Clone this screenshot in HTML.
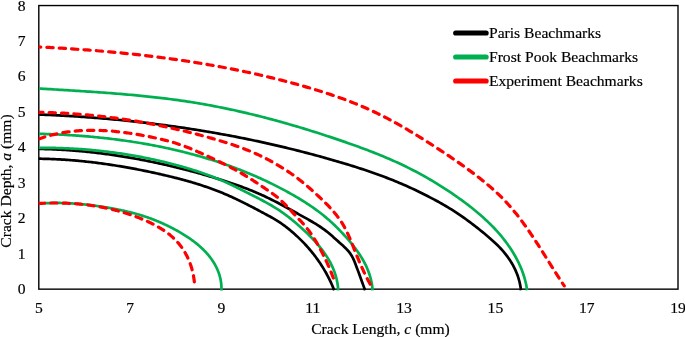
<!DOCTYPE html>
<html><head><meta charset="utf-8"><title>Crack beachmarks</title>
<style>
html,body{margin:0;padding:0;background:#fff;}
svg{display:block;}
text{font-family:"Liberation Serif","Times New Roman",serif;font-size:15.6px;fill:#000;stroke:#000;stroke-width:0.18px;}
</style></head>
<body>
<svg width="685" height="337" viewBox="0 0 685 337">
<rect x="0" y="0" width="685" height="337" fill="#ffffff"/>
<defs><clipPath id="pc"><rect x="38.60" y="5.55" width="639.10" height="283.60"/></clipPath></defs>
<rect x="38.80" y="5.55" width="639.20" height="283.60" fill="none" stroke="#000" stroke-width="1.4"/>
<g>
<path d="M38.87,158.70 L40.30,158.72 L41.73,158.75 L43.16,158.78 L44.59,158.81 L46.02,158.85 L47.45,158.89 L48.88,158.94 L50.30,158.99 L51.73,159.04 L53.16,159.10 L54.58,159.16 L56.01,159.23 L57.43,159.30 L58.85,159.38 L60.28,159.46 L61.70,159.54 L63.12,159.63 L64.55,159.72 L65.97,159.82 L67.39,159.92 L68.81,160.02 L70.23,160.13 L71.65,160.24 L73.07,160.35 L74.49,160.47 L75.91,160.60 L77.32,160.72 L78.74,160.85 L80.16,160.99 L81.57,161.13 L82.99,161.27 L84.40,161.41 L85.82,161.56 L87.23,161.72 L88.65,161.87 L90.06,162.03 L91.47,162.20 L92.89,162.36 L94.30,162.53 L95.71,162.71 L97.12,162.89 L98.53,163.07 L99.94,163.25 L101.35,163.44 L102.76,163.63 L104.17,163.83 L105.58,164.03 L106.99,164.23 L108.39,164.43 L109.80,164.64 L111.21,164.85 L112.61,165.07 L114.02,165.29 L115.42,165.51 L116.83,165.73 L118.23,165.96 L119.64,166.19 L121.04,166.43 L122.44,166.66 L123.85,166.91 L125.25,167.15 L126.65,167.40 L128.05,167.64 L129.45,167.90 L130.85,168.15 L132.25,168.41 L133.65,168.67 L135.05,168.94 L136.45,169.20 L137.85,169.47 L139.25,169.75 L140.64,170.02 L142.04,170.30 L143.44,170.58 L144.83,170.87 L146.23,171.15 L147.62,171.44 L149.02,171.74 L150.41,172.03 L151.81,172.33 L153.20,172.63 L154.59,172.93 L155.99,173.24 L157.38,173.55 L158.77,173.86 L160.16,174.17 L161.55,174.49 L162.94,174.81 L164.33,175.13 L165.72,175.45 L167.11,175.78 L168.50,176.11 L169.89,176.45 L171.27,176.78 L172.66,177.12 L174.04,177.47 L175.42,177.82 L176.81,178.17 L178.19,178.53 L179.57,178.89 L180.95,179.25 L182.32,179.62 L183.70,179.99 L185.07,180.37 L186.45,180.75 L187.82,181.14 L189.19,181.53 L190.56,181.92 L191.92,182.32 L193.29,182.73 L194.65,183.14 L196.01,183.55 L197.37,183.98 L198.73,184.40 L200.09,184.83 L201.44,185.27 L202.79,185.71 L204.14,186.16 L205.49,186.62 L206.83,187.08 L208.18,187.54 L209.52,188.02 L210.86,188.49 L212.19,188.98 L213.52,189.47 L214.85,189.97 L216.18,190.47 L217.51,190.99 L218.83,191.50 L220.15,192.03 L221.47,192.56 L222.78,193.10 L224.09,193.65 L225.40,194.20 L226.71,194.76 L228.01,195.33 L229.31,195.90 L230.61,196.49 L231.90,197.07 L233.20,197.67 L234.49,198.27 L235.77,198.87 L237.06,199.48 L238.34,200.10 L239.62,200.72 L240.90,201.35 L242.18,201.98 L243.45,202.61 L244.73,203.25 L246.00,203.89 L247.27,204.54 L248.54,205.19 L249.81,205.84 L251.08,206.50 L252.34,207.16 L253.61,207.82 L254.87,208.48 L256.13,209.15 L257.39,209.81 L258.66,210.48 L259.92,211.15 L261.18,211.82 L262.44,212.50 L263.70,213.17 L264.96,213.84 L266.22,214.51 L267.47,215.19 L268.73,215.87 L269.98,216.55 L271.23,217.24 L272.47,217.94 L273.70,218.65 L274.93,219.37 L276.15,220.10 L277.35,220.85 L278.55,221.61 L279.73,222.39 L280.91,223.19 L282.07,224.00 L283.22,224.83 L284.36,225.67 L285.50,226.52 L286.62,227.38 L287.74,228.26 L288.84,229.15 L289.94,230.05 L291.04,230.96 L292.12,231.88 L293.20,232.81 L294.27,233.75 L295.33,234.70 L296.38,235.66 L297.43,236.63 L298.47,237.61 L299.49,238.60 L300.51,239.60 L301.53,240.61 L302.53,241.62 L303.52,242.65 L304.51,243.68 L305.48,244.73 L306.45,245.78 L307.40,246.85 L308.35,247.92 L309.28,249.00 L310.21,250.09 L311.12,251.18 L312.03,252.29 L312.92,253.40 L313.81,254.53 L314.68,255.66 L315.54,256.80 L316.40,257.94 L317.24,259.10 L318.06,260.26 L318.88,261.43 L319.69,262.61 L320.48,263.79 L321.26,264.98 L322.03,266.18 L322.79,267.39 L323.54,268.61 L324.27,269.83 L324.99,271.06 L325.70,272.29 L326.39,273.53 L327.07,274.78 L327.74,276.04 L328.39,277.30 L329.04,278.57 L329.66,279.84 L330.28,281.12 L330.88,282.41 L331.46,283.71 L332.03,285.01 L332.59,286.31 L333.13,287.62 L333.66,288.94 L334.17,290.26" fill="none" stroke="#000000" stroke-width="2.7" stroke-linecap="butt" stroke-linejoin="round" />
<path d="M38.90,148.94 L40.47,148.96 L42.04,148.99 L43.61,149.02 L45.19,149.06 L46.76,149.10 L48.33,149.15 L49.90,149.21 L51.47,149.26 L53.04,149.33 L54.61,149.39 L56.18,149.46 L57.75,149.54 L59.32,149.62 L60.89,149.71 L62.46,149.80 L64.03,149.89 L65.60,149.99 L67.16,150.09 L68.73,150.20 L70.30,150.31 L71.86,150.43 L73.43,150.55 L75.00,150.68 L76.56,150.80 L78.13,150.94 L79.69,151.08 L81.26,151.22 L82.82,151.37 L84.38,151.52 L85.95,151.67 L87.51,151.83 L89.07,151.99 L90.63,152.16 L92.19,152.33 L93.75,152.51 L95.31,152.69 L96.87,152.87 L98.43,153.06 L99.99,153.25 L101.55,153.45 L103.11,153.65 L104.67,153.85 L106.22,154.06 L107.78,154.27 L109.33,154.49 L110.89,154.71 L112.44,154.93 L114.00,155.15 L115.55,155.39 L117.11,155.62 L118.66,155.86 L120.21,156.10 L121.76,156.34 L123.31,156.59 L124.86,156.85 L126.41,157.10 L127.96,157.36 L129.51,157.63 L131.06,157.90 L132.61,158.17 L134.15,158.44 L135.70,158.72 L137.25,159.00 L138.79,159.29 L140.33,159.58 L141.88,159.87 L143.42,160.17 L144.96,160.47 L146.50,160.77 L148.04,161.08 L149.58,161.39 L151.12,161.70 L152.66,162.02 L154.20,162.34 L155.74,162.67 L157.27,163.00 L158.81,163.33 L160.34,163.66 L161.88,164.00 L163.41,164.34 L164.94,164.69 L166.47,165.04 L168.00,165.39 L169.53,165.75 L171.06,166.11 L172.59,166.47 L174.12,166.84 L175.65,167.21 L177.17,167.58 L178.70,167.95 L180.22,168.33 L181.74,168.72 L183.27,169.10 L184.79,169.49 L186.31,169.89 L187.83,170.28 L189.35,170.68 L190.87,171.09 L192.39,171.49 L193.90,171.90 L195.42,172.31 L196.94,172.73 L198.45,173.15 L199.97,173.57 L201.48,174.00 L202.99,174.43 L204.50,174.86 L206.01,175.29 L207.52,175.73 L209.03,176.17 L210.54,176.62 L212.05,177.07 L213.55,177.52 L215.06,177.97 L216.56,178.43 L218.07,178.89 L219.57,179.35 L221.07,179.82 L222.57,180.30 L224.07,180.77 L225.57,181.26 L227.06,181.74 L228.56,182.23 L230.05,182.73 L231.54,183.23 L233.03,183.73 L234.51,184.24 L236.00,184.76 L237.48,185.28 L238.96,185.81 L240.44,186.35 L241.91,186.89 L243.38,187.43 L244.85,187.99 L246.32,188.55 L247.78,189.11 L249.24,189.69 L250.70,190.27 L252.15,190.85 L253.60,191.45 L255.05,192.05 L256.50,192.67 L257.94,193.28 L259.37,193.91 L260.81,194.55 L262.24,195.19 L263.66,195.84 L265.08,196.50 L266.50,197.17 L267.92,197.85 L269.33,198.54 L270.74,199.23 L272.14,199.92 L273.54,200.63 L274.94,201.34 L276.34,202.06 L277.73,202.78 L279.13,203.51 L280.52,204.24 L281.91,204.98 L283.29,205.72 L284.68,206.46 L286.06,207.21 L287.44,207.96 L288.82,208.72 L290.20,209.48 L291.58,210.24 L292.96,211.00 L294.33,211.76 L295.71,212.53 L297.09,213.29 L298.46,214.06 L299.84,214.83 L301.21,215.59 L302.59,216.36 L303.97,217.13 L305.34,217.89 L306.71,218.66 L308.09,219.44 L309.45,220.21 L310.82,221.00 L312.18,221.79 L313.53,222.59 L314.87,223.40 L316.21,224.22 L317.54,225.05 L318.86,225.89 L320.17,226.75 L321.46,227.63 L322.75,228.52 L324.02,229.43 L325.27,230.36 L326.52,231.31 L327.74,232.29 L328.95,233.28 L330.15,234.30 L331.33,235.32 L332.51,236.36 L333.69,237.41 L334.86,238.47 L336.04,239.52 L337.21,240.57 L338.40,241.62 L339.59,242.67 L340.78,243.71 L341.96,244.76 L343.14,245.82 L344.29,246.90 L345.42,247.99 L346.52,249.11 L347.59,250.25 L348.61,251.43 L349.59,252.65 L350.50,253.90 L351.35,255.20 L352.13,256.55 L352.86,257.93 L353.53,259.34 L354.16,260.79 L354.76,262.25 L355.34,263.72 L355.90,265.20 L356.46,266.68 L357.01,268.16 L357.56,269.64 L358.11,271.11 L358.66,272.59 L359.20,274.06 L359.74,275.54 L360.28,277.01 L360.82,278.49 L361.36,279.96 L361.89,281.44 L362.43,282.91 L362.96,284.39 L363.50,285.87 L364.03,287.34 L364.57,288.82 L365.10,290.30" fill="none" stroke="#000000" stroke-width="2.7" stroke-linecap="butt" stroke-linejoin="round" />
<path d="M38.90,114.50 L41.15,114.59 L43.39,114.68 L45.63,114.78 L47.88,114.88 L50.12,114.98 L52.37,115.09 L54.61,115.20 L56.86,115.31 L59.10,115.43 L61.34,115.55 L63.59,115.68 L65.83,115.80 L68.07,115.94 L70.32,116.07 L72.56,116.21 L74.80,116.35 L77.05,116.50 L79.29,116.65 L81.53,116.80 L83.77,116.96 L86.02,117.12 L88.26,117.29 L90.50,117.45 L92.74,117.63 L94.98,117.80 L97.22,117.98 L99.46,118.16 L101.70,118.35 L103.94,118.54 L106.18,118.74 L108.42,118.93 L110.66,119.14 L112.90,119.34 L115.14,119.55 L117.38,119.77 L119.62,119.98 L121.85,120.20 L124.09,120.43 L126.33,120.66 L128.57,120.89 L130.80,121.12 L133.04,121.36 L135.27,121.61 L137.51,121.86 L139.74,122.11 L141.97,122.36 L144.21,122.62 L146.44,122.89 L148.67,123.15 L150.91,123.42 L153.14,123.70 L155.37,123.98 L157.60,124.26 L159.83,124.55 L162.06,124.84 L164.29,125.13 L166.52,125.43 L168.74,125.73 L170.97,126.04 L173.20,126.35 L175.42,126.66 L177.65,126.98 L179.88,127.31 L182.10,127.63 L184.32,127.96 L186.55,128.30 L188.77,128.64 L190.99,128.98 L193.21,129.33 L195.43,129.68 L197.65,130.03 L199.87,130.39 L202.09,130.75 L204.31,131.12 L206.53,131.49 L208.74,131.87 L210.96,132.25 L213.17,132.63 L215.39,133.02 L217.60,133.41 L219.81,133.81 L222.02,134.21 L224.24,134.61 L226.45,135.02 L228.66,135.43 L230.86,135.85 L233.07,136.27 L235.28,136.70 L237.49,137.13 L239.69,137.56 L241.90,138.00 L244.10,138.44 L246.30,138.89 L248.50,139.34 L250.70,139.79 L252.90,140.25 L255.10,140.71 L257.30,141.18 L259.50,141.65 L261.70,142.13 L263.89,142.61 L266.08,143.10 L268.28,143.59 L270.47,144.08 L272.66,144.58 L274.85,145.08 L277.04,145.59 L279.23,146.10 L281.42,146.62 L283.60,147.14 L285.79,147.66 L287.97,148.19 L290.16,148.72 L292.34,149.26 L294.52,149.80 L296.70,150.35 L298.88,150.90 L301.06,151.45 L303.23,152.01 L305.41,152.58 L307.58,153.15 L309.76,153.72 L311.93,154.30 L314.10,154.88 L316.27,155.47 L318.44,156.06 L320.60,156.66 L322.77,157.26 L324.94,157.86 L327.10,158.47 L329.26,159.08 L331.42,159.70 L333.58,160.33 L335.74,160.95 L337.90,161.59 L340.05,162.22 L342.21,162.86 L344.36,163.51 L346.51,164.16 L348.66,164.82 L350.81,165.48 L352.96,166.15 L355.10,166.83 L357.25,167.51 L359.39,168.19 L361.52,168.89 L363.66,169.59 L365.79,170.30 L367.92,171.02 L370.05,171.75 L372.17,172.48 L374.29,173.22 L376.41,173.97 L378.52,174.73 L380.63,175.50 L382.74,176.28 L384.84,177.07 L386.94,177.87 L389.03,178.69 L391.13,179.51 L393.21,180.34 L395.29,181.18 L397.37,182.04 L399.44,182.91 L401.51,183.79 L403.57,184.68 L405.63,185.58 L407.68,186.50 L409.73,187.43 L411.77,188.37 L413.81,189.33 L415.84,190.30 L417.87,191.28 L419.89,192.27 L421.91,193.27 L423.92,194.28 L425.93,195.29 L427.94,196.31 L429.94,197.34 L431.93,198.38 L433.92,199.43 L435.91,200.49 L437.88,201.56 L439.85,202.64 L441.81,203.73 L443.76,204.85 L445.70,205.97 L447.63,207.12 L449.54,208.28 L451.45,209.46 L453.34,210.66 L455.22,211.87 L457.09,213.10 L458.95,214.35 L460.79,215.62 L462.63,216.90 L464.46,218.20 L466.28,219.51 L468.09,220.84 L469.90,222.18 L471.69,223.53 L473.48,224.89 L475.26,226.27 L477.04,227.66 L478.80,229.06 L480.57,230.47 L482.33,231.89 L484.08,233.32 L485.83,234.76 L487.56,236.21 L489.28,237.68 L490.98,239.17 L492.67,240.67 L494.33,242.20 L495.97,243.75 L497.58,245.32 L499.16,246.92 L500.70,248.55 L502.21,250.20 L503.68,251.89 L505.10,253.61 L506.48,255.37 L507.82,257.16 L509.10,258.99 L510.34,260.85 L511.52,262.74 L512.64,264.67 L513.70,266.63 L514.71,268.62 L515.65,270.65 L516.53,272.71 L517.34,274.80 L518.08,276.92 L518.75,279.08 L519.35,281.26 L519.87,283.47 L520.32,285.71 L520.69,287.98 L520.98,290.28" fill="none" stroke="#000000" stroke-width="2.7" stroke-linecap="butt" stroke-linejoin="round" />
<path d="M38.92,203.62 L39.83,203.54 L40.75,203.48 L41.67,203.41 L42.59,203.36 L43.51,203.30 L44.43,203.25 L45.35,203.20 L46.27,203.16 L47.19,203.12 L48.11,203.09 L49.04,203.06 L49.96,203.03 L50.88,203.00 L51.80,202.98 L52.72,202.97 L53.65,202.96 L54.57,202.95 L55.49,202.94 L56.41,202.94 L57.34,202.94 L58.26,202.95 L59.18,202.96 L60.10,202.97 L61.03,202.98 L61.95,203.00 L62.87,203.03 L63.80,203.05 L64.72,203.08 L65.64,203.11 L66.57,203.15 L67.49,203.19 L68.41,203.23 L69.34,203.28 L70.26,203.33 L71.19,203.38 L72.11,203.43 L73.03,203.49 L73.96,203.55 L74.88,203.62 L75.80,203.68 L76.72,203.75 L77.65,203.83 L78.57,203.90 L79.49,203.98 L80.42,204.06 L81.34,204.15 L82.26,204.23 L83.18,204.33 L84.10,204.42 L85.03,204.51 L85.95,204.61 L86.87,204.71 L87.79,204.82 L88.71,204.92 L89.63,205.03 L90.55,205.14 L91.47,205.25 L92.39,205.37 L93.31,205.49 L94.23,205.61 L95.15,205.73 L96.07,205.86 L96.98,205.99 L97.90,206.12 L98.82,206.25 L99.74,206.38 L100.65,206.52 L101.57,206.66 L102.48,206.80 L103.40,206.94 L104.32,207.09 L105.23,207.24 L106.14,207.39 L107.06,207.54 L107.97,207.69 L108.88,207.85 L109.80,208.01 L110.71,208.17 L111.62,208.33 L112.53,208.49 L113.44,208.66 L114.35,208.83 L115.26,209.01 L116.16,209.18 L117.07,209.36 L117.98,209.54 L118.88,209.72 L119.79,209.91 L120.69,210.10 L121.59,210.29 L122.50,210.49 L123.40,210.68 L124.30,210.88 L125.20,211.09 L126.10,211.30 L126.99,211.51 L127.89,211.72 L128.78,211.94 L129.68,212.16 L130.57,212.38 L131.46,212.61 L132.35,212.84 L133.24,213.07 L134.13,213.31 L135.02,213.55 L135.91,213.80 L136.79,214.04 L137.67,214.30 L138.56,214.55 L139.44,214.81 L140.32,215.08 L141.19,215.34 L142.07,215.62 L142.95,215.89 L143.82,216.17 L144.69,216.46 L145.56,216.75 L146.43,217.04 L147.30,217.33 L148.17,217.64 L149.03,217.94 L149.89,218.25 L150.75,218.57 L151.61,218.89 L152.47,219.21 L153.33,219.54 L154.18,219.87 L155.04,220.21 L155.89,220.55 L156.74,220.90 L157.59,221.25 L158.43,221.60 L159.28,221.96 L160.12,222.33 L160.97,222.69 L161.81,223.07 L162.65,223.44 L163.49,223.83 L164.33,224.21 L165.16,224.60 L166.00,225.00 L166.83,225.40 L167.67,225.80 L168.50,226.21 L169.33,226.62 L170.16,227.04 L170.99,227.46 L171.81,227.89 L172.64,228.32 L173.47,228.75 L174.29,229.19 L175.11,229.63 L175.94,230.08 L176.76,230.53 L177.58,230.99 L178.39,231.45 L179.21,231.92 L180.03,232.39 L180.84,232.86 L181.65,233.34 L182.45,233.83 L183.26,234.32 L184.06,234.81 L184.86,235.31 L185.65,235.81 L186.45,236.32 L187.23,236.84 L188.02,237.36 L188.80,237.88 L189.57,238.41 L190.35,238.95 L191.11,239.49 L191.87,240.04 L192.63,240.59 L193.38,241.15 L194.13,241.71 L194.87,242.28 L195.60,242.85 L196.33,243.43 L197.06,244.02 L197.77,244.61 L198.48,245.21 L199.19,245.81 L199.88,246.42 L200.57,247.04 L201.25,247.66 L201.93,248.29 L202.60,248.93 L203.25,249.57 L203.90,250.22 L204.55,250.87 L205.18,251.53 L205.81,252.20 L206.42,252.87 L207.03,253.55 L207.63,254.24 L208.22,254.93 L208.80,255.63 L209.37,256.34 L209.93,257.05 L210.48,257.78 L211.02,258.50 L211.55,259.24 L212.07,259.98 L212.57,260.73 L213.07,261.49 L213.55,262.25 L214.03,263.02 L214.49,263.80 L214.94,264.59 L215.38,265.38 L215.80,266.18 L216.21,266.99 L216.61,267.81 L217.00,268.63 L217.37,269.46 L217.73,270.30 L218.07,271.14 L218.40,271.99 L218.72,272.85 L219.01,273.72 L219.30,274.59 L219.56,275.47 L219.82,276.36 L220.05,277.25 L220.27,278.15 L220.47,279.06 L220.65,279.97 L220.82,280.90 L220.96,281.82 L221.09,282.76 L221.20,283.70 L221.29,284.65 L221.37,285.60 L221.42,286.57 L221.45,287.53 L221.46,288.51 L221.46,289.49 L221.43,290.48" fill="none" stroke="#00b050" stroke-width="2.7" stroke-linecap="butt" stroke-linejoin="round" />
<path d="M38.90,147.85 L40.39,147.84 L41.87,147.83 L43.35,147.83 L44.83,147.83 L46.31,147.84 L47.80,147.85 L49.28,147.86 L50.76,147.88 L52.24,147.90 L53.73,147.93 L55.21,147.96 L56.69,148.00 L58.17,148.04 L59.65,148.08 L61.14,148.13 L62.62,148.18 L64.10,148.23 L65.58,148.29 L67.06,148.36 L68.54,148.43 L70.02,148.50 L71.50,148.57 L72.99,148.65 L74.47,148.74 L75.95,148.83 L77.43,148.92 L78.91,149.02 L80.39,149.12 L81.86,149.22 L83.34,149.33 L84.82,149.45 L86.30,149.57 L87.78,149.69 L89.26,149.81 L90.73,149.95 L92.21,150.08 L93.69,150.22 L95.16,150.36 L96.64,150.51 L98.11,150.66 L99.59,150.82 L101.06,150.98 L102.54,151.14 L104.01,151.31 L105.48,151.48 L106.96,151.66 L108.43,151.84 L109.90,152.03 L111.37,152.22 L112.84,152.41 L114.31,152.61 L115.78,152.81 L117.25,153.02 L118.72,153.23 L120.19,153.44 L121.65,153.66 L123.12,153.89 L124.58,154.12 L126.05,154.35 L127.51,154.58 L128.98,154.82 L130.44,155.07 L131.90,155.32 L133.36,155.57 L134.82,155.83 L136.28,156.09 L137.74,156.36 L139.20,156.63 L140.66,156.91 L142.11,157.19 L143.57,157.47 L145.02,157.76 L146.48,158.05 L147.93,158.35 L149.38,158.65 L150.83,158.95 L152.28,159.26 L153.73,159.58 L155.18,159.90 L156.63,160.22 L158.07,160.55 L159.52,160.88 L160.96,161.22 L162.41,161.56 L163.85,161.90 L165.29,162.25 L166.73,162.60 L168.17,162.96 L169.61,163.32 L171.05,163.69 L172.48,164.06 L173.92,164.44 L175.35,164.82 L176.78,165.20 L178.21,165.59 L179.64,165.98 L181.07,166.38 L182.50,166.78 L183.92,167.19 L185.35,167.60 L186.77,168.02 L188.19,168.44 L189.61,168.87 L191.03,169.31 L192.44,169.75 L193.86,170.19 L195.27,170.64 L196.68,171.10 L198.09,171.56 L199.49,172.03 L200.89,172.51 L202.30,172.99 L203.69,173.48 L205.09,173.97 L206.48,174.47 L207.88,174.98 L209.26,175.49 L210.65,176.01 L212.03,176.54 L213.42,177.07 L214.79,177.62 L216.17,178.16 L217.54,178.72 L218.91,179.29 L220.28,179.86 L221.64,180.44 L223.00,181.02 L224.36,181.62 L225.71,182.22 L227.06,182.83 L228.41,183.45 L229.75,184.07 L231.09,184.70 L232.43,185.34 L233.77,185.98 L235.10,186.63 L236.44,187.28 L237.77,187.94 L239.10,188.60 L240.43,189.26 L241.76,189.93 L243.08,190.59 L244.41,191.26 L245.74,191.93 L247.06,192.61 L248.39,193.28 L249.72,193.95 L251.04,194.62 L252.37,195.29 L253.69,195.97 L255.02,196.64 L256.34,197.31 L257.67,197.99 L258.99,198.67 L260.30,199.35 L261.62,200.04 L262.93,200.74 L264.24,201.44 L265.54,202.14 L266.84,202.85 L268.13,203.57 L269.42,204.30 L270.70,205.04 L271.98,205.78 L273.25,206.54 L274.51,207.30 L275.76,208.08 L277.00,208.87 L278.24,209.67 L279.47,210.49 L280.68,211.31 L281.89,212.15 L283.10,213.00 L284.29,213.86 L285.48,214.73 L286.66,215.62 L287.83,216.51 L289.00,217.42 L290.16,218.33 L291.31,219.25 L292.46,220.19 L293.60,221.13 L294.73,222.08 L295.86,223.04 L296.99,224.01 L298.11,224.99 L299.22,225.97 L300.33,226.97 L301.44,227.97 L302.54,228.98 L303.64,229.99 L304.73,231.01 L305.82,232.04 L306.90,233.08 L307.98,234.12 L309.05,235.17 L310.11,236.23 L311.16,237.30 L312.20,238.38 L313.23,239.46 L314.25,240.56 L315.26,241.66 L316.25,242.77 L317.24,243.89 L318.21,245.02 L319.16,246.16 L320.10,247.31 L321.03,248.47 L321.94,249.64 L322.83,250.82 L323.70,252.01 L324.56,253.21 L325.40,254.43 L326.21,255.65 L327.01,256.88 L327.78,258.13 L328.54,259.39 L329.27,260.66 L329.98,261.94 L330.66,263.23 L331.32,264.54 L331.95,265.85 L332.56,267.18 L333.14,268.53 L333.70,269.88 L334.23,271.25 L334.72,272.64 L335.19,274.03 L335.63,275.44 L336.04,276.87 L336.42,278.31 L336.76,279.76 L337.07,281.23 L337.35,282.71 L337.59,284.20 L337.80,285.71 L337.98,287.24 L338.12,288.78 L338.22,290.34" fill="none" stroke="#00b050" stroke-width="2.7" stroke-linecap="butt" stroke-linejoin="round" />
<path d="M39.03,133.82 L40.66,133.86 L42.28,133.91 L43.91,133.95 L45.53,134.00 L47.16,134.06 L48.79,134.11 L50.42,134.17 L52.04,134.23 L53.67,134.30 L55.30,134.37 L56.93,134.44 L58.56,134.51 L60.20,134.59 L61.83,134.67 L63.46,134.76 L65.09,134.85 L66.73,134.94 L68.36,135.04 L69.99,135.14 L71.63,135.24 L73.26,135.35 L74.90,135.46 L76.53,135.57 L78.17,135.69 L79.80,135.81 L81.44,135.93 L83.07,136.06 L84.71,136.19 L86.35,136.33 L87.98,136.47 L89.62,136.61 L91.25,136.76 L92.89,136.91 L94.53,137.06 L96.16,137.22 L97.80,137.38 L99.43,137.55 L101.07,137.72 L102.71,137.89 L104.34,138.07 L105.98,138.25 L107.61,138.43 L109.25,138.62 L110.88,138.82 L112.51,139.01 L114.15,139.22 L115.78,139.42 L117.42,139.63 L119.05,139.85 L120.68,140.06 L122.31,140.29 L123.94,140.51 L125.57,140.74 L127.21,140.98 L128.84,141.22 L130.46,141.46 L132.09,141.71 L133.72,141.96 L135.35,142.22 L136.98,142.48 L138.60,142.74 L140.23,143.01 L141.85,143.29 L143.47,143.57 L145.10,143.85 L146.72,144.14 L148.34,144.43 L149.96,144.73 L151.58,145.03 L153.20,145.33 L154.82,145.64 L156.43,145.96 L158.05,146.28 L159.66,146.60 L161.28,146.93 L162.89,147.27 L164.50,147.61 L166.11,147.95 L167.72,148.30 L169.33,148.65 L170.93,149.01 L172.54,149.37 L174.14,149.74 L175.75,150.11 L177.35,150.49 L178.95,150.87 L180.55,151.26 L182.15,151.65 L183.74,152.05 L185.34,152.45 L186.93,152.86 L188.52,153.27 L190.11,153.69 L191.70,154.11 L193.29,154.54 L194.87,154.97 L196.46,155.41 L198.04,155.85 L199.62,156.30 L201.20,156.75 L202.78,157.21 L204.35,157.67 L205.93,158.14 L207.50,158.62 L209.07,159.10 L210.64,159.58 L212.20,160.08 L213.77,160.57 L215.33,161.07 L216.89,161.58 L218.45,162.09 L220.01,162.61 L221.56,163.14 L223.11,163.66 L224.66,164.20 L226.21,164.74 L227.76,165.29 L229.30,165.84 L230.85,166.39 L232.39,166.96 L233.92,167.53 L235.46,168.10 L236.99,168.68 L238.52,169.27 L240.05,169.86 L241.58,170.46 L243.10,171.06 L244.63,171.67 L246.14,172.28 L247.66,172.90 L249.18,173.53 L250.69,174.16 L252.20,174.80 L253.70,175.45 L255.21,176.10 L256.71,176.75 L258.21,177.42 L259.70,178.08 L261.20,178.76 L262.69,179.44 L264.18,180.13 L265.66,180.82 L267.15,181.52 L268.63,182.23 L270.10,182.94 L271.58,183.66 L273.05,184.38 L274.52,185.11 L275.98,185.85 L277.45,186.59 L278.91,187.34 L280.36,188.09 L281.82,188.86 L283.27,189.63 L284.72,190.40 L286.16,191.18 L287.60,191.97 L289.04,192.76 L290.48,193.57 L291.91,194.37 L293.34,195.19 L294.76,196.01 L296.18,196.84 L297.60,197.67 L299.01,198.52 L300.41,199.37 L301.82,200.23 L303.21,201.10 L304.60,201.98 L305.99,202.86 L307.36,203.76 L308.74,204.66 L310.10,205.58 L311.46,206.50 L312.81,207.44 L314.15,208.38 L315.49,209.34 L316.82,210.30 L318.13,211.28 L319.44,212.27 L320.75,213.27 L322.04,214.28 L323.32,215.31 L324.60,216.34 L325.86,217.39 L327.11,218.45 L328.36,219.52 L329.59,220.61 L330.81,221.71 L332.02,222.82 L333.23,223.94 L334.42,225.07 L335.60,226.21 L336.78,227.37 L337.94,228.53 L339.10,229.71 L340.24,230.89 L341.38,232.09 L342.51,233.29 L343.63,234.50 L344.74,235.72 L345.84,236.95 L346.93,238.18 L348.02,239.43 L349.09,240.68 L350.16,241.94 L351.21,243.21 L352.25,244.48 L353.27,245.77 L354.28,247.07 L355.28,248.37 L356.26,249.69 L357.22,251.02 L358.16,252.36 L359.08,253.71 L359.98,255.07 L360.86,256.44 L361.71,257.83 L362.55,259.23 L363.35,260.64 L364.13,262.07 L364.89,263.50 L365.61,264.96 L366.31,266.42 L366.98,267.90 L367.61,269.40 L368.22,270.91 L368.79,272.44 L369.33,273.98 L369.83,275.54 L370.30,277.11 L370.73,278.70 L371.12,280.31 L371.47,281.94 L371.79,283.58 L372.06,285.24 L372.29,286.92 L372.48,288.62 L372.62,290.34" fill="none" stroke="#00b050" stroke-width="2.7" stroke-linecap="butt" stroke-linejoin="round" />
<path d="M38.90,88.51 L41.22,88.65 L43.54,88.80 L45.86,88.94 L48.19,89.08 L50.51,89.22 L52.83,89.36 L55.16,89.50 L57.48,89.65 L59.81,89.79 L62.13,89.93 L64.46,90.07 L66.79,90.21 L69.11,90.36 L71.44,90.50 L73.77,90.65 L76.10,90.79 L78.42,90.94 L80.75,91.09 L83.08,91.24 L85.41,91.39 L87.74,91.54 L90.06,91.70 L92.39,91.86 L94.72,92.01 L97.05,92.18 L99.38,92.34 L101.70,92.51 L104.03,92.67 L106.36,92.85 L108.69,93.02 L111.01,93.20 L113.34,93.38 L115.67,93.56 L117.99,93.75 L120.32,93.94 L122.65,94.13 L124.97,94.33 L127.30,94.53 L129.62,94.74 L131.95,94.95 L134.27,95.16 L136.59,95.38 L138.91,95.61 L141.24,95.83 L143.56,96.07 L145.88,96.30 L148.20,96.55 L150.52,96.79 L152.83,97.05 L155.15,97.30 L157.47,97.57 L159.79,97.84 L162.10,98.11 L164.41,98.39 L166.73,98.68 L169.04,98.97 L171.35,99.27 L173.66,99.58 L175.97,99.89 L178.28,100.21 L180.59,100.54 L182.89,100.87 L185.20,101.21 L187.50,101.56 L189.80,101.91 L192.11,102.27 L194.41,102.64 L196.71,103.02 L199.00,103.40 L201.30,103.79 L203.59,104.19 L205.89,104.60 L208.18,105.02 L210.47,105.44 L212.76,105.87 L215.05,106.30 L217.34,106.75 L219.62,107.20 L221.91,107.66 L224.19,108.12 L226.47,108.60 L228.75,109.07 L231.03,109.56 L233.31,110.05 L235.58,110.55 L237.86,111.06 L240.13,111.57 L242.41,112.09 L244.68,112.62 L246.95,113.15 L249.21,113.69 L251.48,114.24 L253.75,114.79 L256.01,115.35 L258.27,115.91 L260.53,116.48 L262.79,117.06 L265.05,117.64 L267.31,118.23 L269.57,118.82 L271.82,119.42 L274.07,120.03 L276.33,120.64 L278.58,121.26 L280.82,121.88 L283.07,122.51 L285.32,123.14 L287.56,123.78 L289.81,124.43 L292.05,125.08 L294.29,125.74 L296.53,126.40 L298.76,127.06 L301.00,127.73 L303.24,128.41 L305.47,129.09 L307.70,129.78 L309.93,130.47 L312.16,131.17 L314.39,131.87 L316.61,132.57 L318.84,133.28 L321.06,134.00 L323.28,134.72 L325.50,135.44 L327.72,136.17 L329.94,136.90 L332.15,137.64 L334.37,138.38 L336.58,139.13 L338.79,139.88 L341.00,140.63 L343.21,141.39 L345.42,142.15 L347.62,142.92 L349.83,143.69 L352.03,144.47 L354.22,145.26 L356.42,146.05 L358.61,146.84 L360.80,147.65 L362.99,148.46 L365.17,149.27 L367.35,150.10 L369.53,150.93 L371.70,151.77 L373.87,152.62 L376.04,153.48 L378.20,154.34 L380.36,155.22 L382.51,156.10 L384.66,157.00 L386.80,157.91 L388.94,158.82 L391.07,159.75 L393.20,160.69 L395.32,161.64 L397.44,162.60 L399.55,163.57 L401.65,164.56 L403.75,165.55 L405.84,166.56 L407.93,167.59 L410.01,168.63 L412.08,169.68 L414.15,170.74 L416.21,171.82 L418.26,172.91 L420.30,174.02 L422.34,175.14 L424.37,176.27 L426.40,177.42 L428.42,178.58 L430.43,179.75 L432.43,180.94 L434.43,182.14 L436.42,183.35 L438.41,184.57 L440.38,185.81 L442.36,187.06 L444.32,188.32 L446.28,189.60 L448.23,190.88 L450.18,192.18 L452.11,193.49 L454.05,194.81 L455.97,196.15 L457.89,197.49 L459.80,198.85 L461.70,200.22 L463.59,201.61 L465.48,203.01 L467.35,204.42 L469.21,205.85 L471.05,207.29 L472.89,208.75 L474.71,210.22 L476.51,211.71 L478.30,213.21 L480.08,214.73 L481.83,216.27 L483.57,217.83 L485.29,219.40 L487.00,221.00 L488.68,222.61 L490.34,224.24 L491.98,225.89 L493.60,227.56 L495.19,229.25 L496.76,230.96 L498.31,232.69 L499.83,234.44 L501.33,236.22 L502.80,238.01 L504.24,239.83 L505.65,241.68 L507.04,243.54 L508.39,245.43 L509.72,247.34 L511.01,249.28 L512.26,251.23 L513.48,253.21 L514.66,255.22 L515.80,257.24 L516.90,259.29 L517.96,261.36 L518.98,263.46 L519.94,265.57 L520.87,267.71 L521.74,269.87 L522.56,272.05 L523.33,274.25 L524.05,276.48 L524.72,278.72 L525.32,280.99 L525.87,283.28 L526.36,285.59 L526.79,287.92 L527.16,290.28" fill="none" stroke="#00b050" stroke-width="2.7" stroke-linecap="butt" stroke-linejoin="round" />
<path d="M38.87,203.46 L39.67,203.42 L40.48,203.37 L41.28,203.33 L42.08,203.30 L42.89,203.26 L43.69,203.23 L44.50,203.19 L45.30,203.16 L46.11,203.14 L46.91,203.11 L47.71,203.09 L48.52,203.07 L49.32,203.05 L50.13,203.03 L50.93,203.02 L51.73,203.01 L52.54,203.00 L53.34,202.99 L54.14,202.99 L54.95,202.98 L55.75,202.98 L56.55,202.99 L57.36,202.99 L58.16,203.00 L58.96,203.01 L59.77,203.02 L60.57,203.03 L61.37,203.05 L62.17,203.07 L62.97,203.09 L63.78,203.11 L64.58,203.13 L65.38,203.16 L66.18,203.19 L66.98,203.23 L67.78,203.26 L68.58,203.30 L69.38,203.34 L70.18,203.38 L70.98,203.43 L71.78,203.47 L72.58,203.52 L73.38,203.58 L74.18,203.63 L74.98,203.69 L75.78,203.75 L76.57,203.81 L77.37,203.88 L78.17,203.94 L78.97,204.01 L79.76,204.09 L80.56,204.16 L81.36,204.24 L82.15,204.32 L82.95,204.40 L83.74,204.49 L84.54,204.58 L85.33,204.67 L86.13,204.76 L86.92,204.86 L87.71,204.96 L88.51,205.06 L89.30,205.16 L90.09,205.27 L90.88,205.38 L91.67,205.49 L92.46,205.61 L93.25,205.73 L94.04,205.85 L94.83,205.97 L95.62,206.10 L96.41,206.23 L97.20,206.36 L97.99,206.49 L98.78,206.63 L99.56,206.77 L100.35,206.91 L101.14,207.06 L101.92,207.20 L102.71,207.36 L103.49,207.51 L104.27,207.67 L105.06,207.83 L105.84,207.99 L106.62,208.15 L107.41,208.32 L108.19,208.49 L108.97,208.67 L109.75,208.85 L110.53,209.03 L111.31,209.21 L112.09,209.39 L112.86,209.58 L113.64,209.77 L114.42,209.97 L115.19,210.17 L115.97,210.37 L116.74,210.57 L117.52,210.78 L118.29,210.99 L119.07,211.20 L119.84,211.42 L120.61,211.63 L121.38,211.86 L122.15,212.08 L122.92,212.31 L123.69,212.54 L124.46,212.77 L125.23,213.01 L125.99,213.25 L126.76,213.49 L127.53,213.74 L128.29,213.99 L129.06,214.24 L129.82,214.50 L130.58,214.76 L131.34,215.02 L132.11,215.29 L132.87,215.55 L133.63,215.83 L134.38,216.10 L135.14,216.38 L135.90,216.66 L136.66,216.95 L137.41,217.23 L138.17,217.52 L138.92,217.82 L139.68,218.12 L140.43,218.42 L141.18,218.72 L141.93,219.03 L142.68,219.34 L143.43,219.65 L144.18,219.97 L144.92,220.29 L145.67,220.62 L146.41,220.95 L147.15,221.28 L147.89,221.62 L148.63,221.96 L149.36,222.31 L150.09,222.65 L150.82,223.01 L151.55,223.37 L152.27,223.73 L153.00,224.09 L153.72,224.46 L154.43,224.84 L155.14,225.22 L155.85,225.60 L156.56,225.99 L157.26,226.39 L157.96,226.78 L158.66,227.19 L159.35,227.60 L160.04,228.01 L160.72,228.43 L161.40,228.85 L162.08,229.28 L162.75,229.71 L163.42,230.15 L164.08,230.60 L164.74,231.05 L165.39,231.50 L166.04,231.97 L166.68,232.43 L167.32,232.91 L167.95,233.38 L168.58,233.87 L169.20,234.36 L169.82,234.85 L170.43,235.36 L171.03,235.87 L171.63,236.38 L172.23,236.90 L172.81,237.43 L173.39,237.96 L173.97,238.50 L174.53,239.05 L175.09,239.60 L175.65,240.16 L176.19,240.73 L176.73,241.30 L177.27,241.88 L177.79,242.47 L178.31,243.06 L178.82,243.66 L179.32,244.27 L179.82,244.89 L180.31,245.51 L180.79,246.14 L181.26,246.77 L181.72,247.42 L182.18,248.06 L182.63,248.72 L183.07,249.38 L183.50,250.05 L183.93,250.72 L184.35,251.40 L184.75,252.09 L185.16,252.78 L185.55,253.48 L185.94,254.18 L186.31,254.89 L186.68,255.60 L187.04,256.32 L187.40,257.04 L187.74,257.77 L188.08,258.50 L188.41,259.24 L188.73,259.98 L189.04,260.72 L189.35,261.47 L189.64,262.23 L189.93,262.98 L190.21,263.74 L190.48,264.51 L190.75,265.28 L191.00,266.05 L191.25,266.82 L191.49,267.60 L191.72,268.38 L191.94,269.16 L192.15,269.94 L192.36,270.73 L192.55,271.52 L192.74,272.31 L192.92,273.11 L193.09,273.90 L193.26,274.70 L193.41,275.50 L193.56,276.30 L193.70,277.10 L193.82,277.91 L193.94,278.71 L194.06,279.52 L194.16,280.32 L194.25,281.13 L194.34,281.94" fill="none" stroke="#ff0000" stroke-width="3.2" stroke-linecap="round" stroke-linejoin="round" stroke-dasharray="6.3 6.1044" stroke-dashoffset="0.55" clip-path="url(#pc)"/>
<path d="M38.85,138.90 L40.27,138.41 L41.70,137.93 L43.12,137.46 L44.55,137.01 L45.98,136.58 L47.42,136.17 L48.85,135.77 L50.29,135.38 L51.73,135.02 L53.17,134.66 L54.62,134.32 L56.06,134.00 L57.51,133.69 L58.96,133.40 L60.42,133.12 L61.87,132.85 L63.33,132.60 L64.78,132.37 L66.24,132.14 L67.70,131.93 L69.17,131.74 L70.63,131.55 L72.10,131.38 L73.56,131.23 L75.03,131.08 L76.50,130.95 L77.97,130.83 L79.44,130.72 L80.91,130.63 L82.39,130.55 L83.86,130.48 L85.34,130.42 L86.81,130.37 L88.29,130.33 L89.77,130.31 L91.24,130.29 L92.72,130.29 L94.20,130.30 L95.68,130.31 L97.16,130.34 L98.64,130.38 L100.12,130.43 L101.60,130.49 L103.08,130.55 L104.56,130.63 L106.04,130.72 L107.53,130.81 L109.01,130.92 L110.49,131.03 L111.97,131.15 L113.45,131.28 L114.93,131.42 L116.41,131.57 L117.89,131.73 L119.36,131.89 L120.84,132.06 L122.32,132.24 L123.80,132.43 L125.27,132.62 L126.75,132.82 L128.22,133.03 L129.69,133.24 L131.17,133.46 L132.64,133.69 L134.11,133.92 L135.58,134.16 L137.04,134.41 L138.51,134.66 L139.98,134.92 L141.44,135.18 L142.90,135.45 L144.36,135.72 L145.82,136.00 L147.28,136.28 L148.74,136.56 L150.19,136.86 L151.64,137.15 L153.09,137.45 L154.54,137.76 L155.99,138.07 L157.43,138.39 L158.87,138.71 L160.31,139.04 L161.75,139.38 L163.18,139.73 L164.62,140.08 L166.05,140.45 L167.47,140.82 L168.89,141.20 L170.31,141.60 L171.73,142.00 L173.15,142.41 L174.56,142.84 L175.96,143.28 L177.37,143.73 L178.77,144.19 L180.16,144.67 L181.56,145.16 L182.95,145.66 L184.33,146.17 L185.71,146.70 L187.09,147.23 L188.47,147.78 L189.84,148.34 L191.21,148.90 L192.58,149.48 L193.95,150.06 L195.31,150.64 L196.67,151.24 L198.03,151.84 L199.39,152.44 L200.75,153.05 L202.10,153.66 L203.46,154.27 L204.81,154.89 L206.16,155.51 L207.51,156.13 L208.86,156.75 L210.21,157.37 L211.55,158.00 L212.90,158.63 L214.24,159.26 L215.58,159.89 L216.92,160.53 L218.26,161.17 L219.59,161.81 L220.92,162.46 L222.25,163.11 L223.58,163.77 L224.91,164.43 L226.23,165.09 L227.55,165.76 L228.87,166.44 L230.18,167.12 L231.49,167.80 L232.80,168.49 L234.11,169.19 L235.41,169.89 L236.70,170.60 L238.00,171.32 L239.29,172.04 L240.58,172.77 L241.86,173.51 L243.14,174.25 L244.41,175.00 L245.68,175.76 L246.95,176.53 L248.21,177.31 L249.46,178.09 L250.71,178.89 L251.96,179.69 L253.20,180.50 L254.44,181.31 L255.68,182.13 L256.91,182.96 L258.15,183.78 L259.38,184.61 L260.61,185.45 L261.83,186.28 L263.06,187.11 L264.29,187.94 L265.52,188.77 L266.75,189.60 L267.97,190.43 L269.20,191.26 L270.41,192.09 L271.62,192.94 L272.83,193.80 L274.01,194.67 L275.19,195.55 L276.35,196.45 L277.49,197.38 L278.62,198.33 L279.72,199.30 L280.81,200.28 L281.89,201.29 L282.95,202.31 L284.01,203.35 L285.05,204.39 L286.08,205.46 L287.11,206.53 L288.12,207.60 L289.14,208.69 L290.15,209.78 L291.16,210.87 L292.16,211.96 L293.17,213.06 L294.18,214.15 L295.20,215.24 L296.21,216.33 L297.24,217.41 L298.27,218.48 L299.29,219.56 L300.31,220.64 L301.33,221.72 L302.33,222.81 L303.32,223.91 L304.29,225.03 L305.24,226.16 L306.18,227.30 L307.10,228.46 L308.00,229.62 L308.89,230.80 L309.76,232.00 L310.61,233.20 L311.45,234.42 L312.28,235.64 L313.09,236.88 L313.89,238.12 L314.68,239.37 L315.45,240.63 L316.21,241.90 L316.96,243.18 L317.70,244.46 L318.43,245.75 L319.15,247.05 L319.87,248.35 L320.57,249.65 L321.26,250.96 L321.95,252.28 L322.63,253.59 L323.30,254.92 L323.96,256.24 L324.61,257.58 L325.26,258.91 L325.89,260.25 L326.52,261.59 L327.14,262.94 L327.75,264.29 L328.35,265.64 L328.94,267.00 L329.52,268.36 L330.09,269.73 L330.65,271.10 L331.21,272.47 L331.75,273.84 L332.28,275.22 L332.81,276.60 L333.32,277.99" fill="none" stroke="#ff0000" stroke-width="3.2" stroke-linecap="round" stroke-linejoin="round" stroke-dasharray="6.3 6.1199" stroke-dashoffset="0.0" clip-path="url(#pc)"/>
<path d="M38.91,112.28 L40.58,112.32 L42.26,112.35 L43.94,112.39 L45.62,112.44 L47.30,112.49 L48.98,112.54 L50.65,112.60 L52.33,112.66 L54.01,112.73 L55.69,112.80 L57.36,112.87 L59.04,112.95 L60.72,113.04 L62.40,113.12 L64.07,113.22 L65.75,113.31 L67.42,113.41 L69.10,113.52 L70.78,113.63 L72.45,113.74 L74.13,113.86 L75.80,113.98 L77.48,114.11 L79.15,114.24 L80.82,114.37 L82.50,114.51 L84.17,114.65 L85.84,114.80 L87.52,114.95 L89.19,115.11 L90.86,115.27 L92.53,115.43 L94.20,115.60 L95.87,115.77 L97.54,115.95 L99.21,116.13 L100.88,116.32 L102.55,116.51 L104.22,116.70 L105.89,116.90 L107.56,117.10 L109.22,117.31 L110.89,117.52 L112.56,117.73 L114.22,117.95 L115.89,118.17 L117.55,118.40 L119.21,118.63 L120.88,118.87 L122.54,119.11 L124.20,119.35 L125.86,119.60 L127.53,119.85 L129.19,120.11 L130.84,120.37 L132.50,120.63 L134.16,120.90 L135.82,121.18 L137.48,121.45 L139.13,121.73 L140.79,122.02 L142.44,122.31 L144.10,122.60 L145.75,122.90 L147.40,123.20 L149.06,123.51 L150.71,123.82 L152.36,124.13 L154.01,124.45 L155.65,124.77 L157.30,125.10 L158.95,125.43 L160.60,125.76 L162.24,126.10 L163.89,126.44 L165.53,126.79 L167.17,127.14 L168.81,127.50 L170.45,127.86 L172.10,128.22 L173.73,128.59 L175.37,128.96 L177.01,129.33 L178.65,129.71 L180.28,130.10 L181.92,130.48 L183.55,130.88 L185.18,131.27 L186.81,131.67 L188.44,132.08 L190.07,132.48 L191.70,132.90 L193.33,133.31 L194.95,133.73 L196.58,134.16 L198.20,134.58 L199.83,135.02 L201.45,135.45 L203.07,135.89 L204.69,136.34 L206.31,136.78 L207.92,137.24 L209.54,137.69 L211.16,138.15 L212.77,138.62 L214.38,139.08 L215.99,139.56 L217.60,140.03 L219.21,140.51 L220.82,141.00 L222.43,141.49 L224.03,141.98 L225.63,142.48 L227.23,142.99 L228.83,143.50 L230.43,144.02 L232.02,144.54 L233.61,145.08 L235.20,145.62 L236.78,146.16 L238.36,146.72 L239.94,147.29 L241.52,147.86 L243.09,148.45 L244.65,149.04 L246.22,149.65 L247.78,150.26 L249.33,150.89 L250.88,151.53 L252.43,152.18 L253.97,152.84 L255.50,153.51 L257.04,154.20 L258.56,154.90 L260.08,155.61 L261.60,156.34 L263.10,157.08 L264.61,157.84 L266.10,158.60 L267.60,159.39 L269.08,160.18 L270.56,160.99 L272.03,161.80 L273.50,162.63 L274.97,163.47 L276.42,164.32 L277.87,165.17 L279.32,166.04 L280.76,166.91 L282.19,167.78 L283.62,168.67 L285.04,169.56 L286.45,170.47 L287.85,171.38 L289.25,172.30 L290.64,173.24 L292.01,174.19 L293.38,175.16 L294.73,176.14 L296.07,177.13 L297.40,178.14 L298.72,179.16 L300.04,180.19 L301.34,181.24 L302.64,182.29 L303.93,183.36 L305.22,184.43 L306.50,185.51 L307.78,186.60 L309.05,187.69 L310.31,188.80 L311.57,189.91 L312.83,191.02 L314.08,192.15 L315.33,193.28 L316.57,194.42 L317.81,195.56 L319.04,196.71 L320.27,197.87 L321.49,199.04 L322.71,200.21 L323.92,201.39 L325.12,202.58 L326.31,203.78 L327.49,204.98 L328.65,206.20 L329.81,207.43 L330.94,208.67 L332.07,209.92 L333.17,211.19 L334.26,212.47 L335.33,213.76 L336.38,215.06 L337.40,216.38 L338.41,217.72 L339.39,219.07 L340.34,220.44 L341.27,221.82 L342.17,223.23 L343.04,224.65 L343.89,226.08 L344.70,227.54 L345.49,229.02 L346.25,230.51 L346.99,232.01 L347.70,233.53 L348.40,235.06 L349.08,236.59 L349.75,238.14 L350.40,239.69 L351.04,241.25 L351.68,242.82 L352.31,244.38 L352.93,245.95 L353.55,247.52 L354.17,249.09 L354.80,250.65 L355.42,252.21 L356.05,253.77 L356.69,255.32 L357.32,256.88 L357.97,258.42 L358.62,259.97 L359.27,261.51 L359.93,263.05 L360.60,264.58 L361.28,266.12 L361.96,267.64 L362.66,269.17 L363.36,270.69 L364.07,272.20 L364.80,273.72 L365.53,275.22 L366.28,276.73 L367.04,278.23 L367.81,279.73 L368.60,281.22 L369.40,282.71 L370.21,284.19" fill="none" stroke="#ff0000" stroke-width="3.2" stroke-linecap="round" stroke-linejoin="round" stroke-dasharray="6.3 6.1134" stroke-dashoffset="2.2" clip-path="url(#pc)"/>
<path d="M38.89,46.94 L41.42,47.07 L43.96,47.20 L46.49,47.33 L49.02,47.47 L51.55,47.62 L54.08,47.76 L56.62,47.91 L59.15,48.06 L61.68,48.22 L64.21,48.38 L66.74,48.54 L69.27,48.71 L71.81,48.88 L74.34,49.05 L76.87,49.23 L79.40,49.41 L81.93,49.59 L84.46,49.78 L86.99,49.97 L89.52,50.17 L92.05,50.37 L94.57,50.57 L97.10,50.78 L99.63,50.99 L102.16,51.20 L104.68,51.42 L107.21,51.65 L109.74,51.88 L112.26,52.11 L114.79,52.34 L117.31,52.59 L119.84,52.83 L122.36,53.08 L124.89,53.34 L127.41,53.59 L129.93,53.86 L132.45,54.13 L134.97,54.40 L137.49,54.68 L140.01,54.96 L142.53,55.25 L145.05,55.54 L147.57,55.83 L150.09,56.14 L152.60,56.44 L155.12,56.75 L157.64,57.07 L160.15,57.39 L162.66,57.72 L165.18,58.05 L167.69,58.39 L170.20,58.73 L172.71,59.08 L175.22,59.44 L177.73,59.80 L180.24,60.16 L182.75,60.53 L185.25,60.91 L187.76,61.29 L190.26,61.67 L192.76,62.07 L195.27,62.47 L197.77,62.87 L200.27,63.28 L202.77,63.70 L205.27,64.12 L207.76,64.55 L210.26,64.98 L212.76,65.42 L215.25,65.87 L217.74,66.32 L220.23,66.78 L222.73,67.24 L225.22,67.71 L227.70,68.19 L230.19,68.67 L232.68,69.17 L235.16,69.66 L237.65,70.17 L240.13,70.68 L242.61,71.19 L245.09,71.71 L247.57,72.24 L250.05,72.78 L252.52,73.32 L255.00,73.87 L257.47,74.43 L259.94,75.00 L262.41,75.57 L264.88,76.14 L267.35,76.73 L269.81,77.32 L272.28,77.92 L274.74,78.53 L277.20,79.14 L279.66,79.76 L282.12,80.39 L284.58,81.03 L287.04,81.67 L289.49,82.32 L291.94,82.98 L294.39,83.64 L296.84,84.32 L299.29,85.00 L301.74,85.69 L304.18,86.38 L306.62,87.09 L309.06,87.80 L311.50,88.52 L313.94,89.25 L316.37,89.99 L318.80,90.74 L321.23,91.50 L323.65,92.27 L326.07,93.05 L328.49,93.84 L330.90,94.64 L333.31,95.46 L335.71,96.28 L338.10,97.12 L340.50,97.97 L342.88,98.84 L345.26,99.71 L347.64,100.61 L350.00,101.51 L352.37,102.43 L354.72,103.37 L357.07,104.32 L359.41,105.28 L361.74,106.27 L364.07,107.27 L366.38,108.28 L368.69,109.31 L370.99,110.36 L373.28,111.43 L375.56,112.51 L377.84,113.61 L380.11,114.73 L382.36,115.86 L384.62,117.01 L386.86,118.17 L389.10,119.35 L391.33,120.54 L393.55,121.74 L395.76,122.96 L397.97,124.19 L400.18,125.43 L402.38,126.68 L404.57,127.95 L406.76,129.22 L408.94,130.51 L411.11,131.81 L413.29,133.12 L415.45,134.43 L417.61,135.76 L419.77,137.09 L421.93,138.43 L424.08,139.78 L426.22,141.13 L428.37,142.50 L430.51,143.87 L432.64,145.24 L434.78,146.62 L436.91,148.01 L439.04,149.40 L441.17,150.80 L443.29,152.20 L445.41,153.61 L447.52,155.02 L449.63,156.44 L451.73,157.87 L453.83,159.31 L455.93,160.76 L458.01,162.21 L460.10,163.67 L462.17,165.14 L464.24,166.62 L466.30,168.11 L468.35,169.61 L470.40,171.12 L472.43,172.64 L474.46,174.17 L476.48,175.71 L478.49,177.27 L480.49,178.83 L482.48,180.41 L484.45,182.01 L486.41,183.62 L488.35,185.24 L490.27,186.89 L492.18,188.55 L494.07,190.23 L495.93,191.94 L497.78,193.66 L499.60,195.40 L501.40,197.17 L503.17,198.96 L504.91,200.78 L506.63,202.62 L508.33,204.48 L510.00,206.37 L511.64,208.28 L513.27,210.20 L514.87,212.15 L516.46,214.12 L518.02,216.10 L519.57,218.10 L521.09,220.11 L522.60,222.14 L524.10,224.19 L525.58,226.25 L527.04,228.32 L528.49,230.40 L529.93,232.50 L531.36,234.60 L532.77,236.72 L534.18,238.84 L535.57,240.97 L536.96,243.10 L538.34,245.24 L539.71,247.39 L541.08,249.54 L542.44,251.69 L543.80,253.85 L545.15,256.01 L546.51,258.16 L547.86,260.32 L549.21,262.48 L550.56,264.63 L551.91,266.78 L553.26,268.93 L554.62,271.07 L555.98,273.21 L557.34,275.34 L558.71,277.47 L560.09,279.58 L561.47,281.69 L562.86,283.79 L564.26,285.87" fill="none" stroke="#ff0000" stroke-width="3.2" stroke-linecap="round" stroke-linejoin="round" stroke-dasharray="6.3 6.0898" stroke-dashoffset="4.4" clip-path="url(#pc)"/>
</g>
<g>
<text x="25.5" y="294.1" text-anchor="end">0</text>
<text x="25.5" y="258.7" text-anchor="end">1</text>
<text x="25.5" y="223.2" text-anchor="end">2</text>
<text x="25.5" y="187.8" text-anchor="end">3</text>
<text x="25.5" y="152.3" text-anchor="end">4</text>
<text x="25.5" y="116.9" text-anchor="end">5</text>
<text x="25.5" y="81.4" text-anchor="end">6</text>
<text x="25.5" y="46.0" text-anchor="end">7</text>
<text x="25.5" y="10.6" text-anchor="end">8</text>
<text x="38.9" y="312.5" text-anchor="middle">5</text>
<text x="130.2" y="312.5" text-anchor="middle">7</text>
<text x="221.5" y="312.5" text-anchor="middle">9</text>
<text x="312.8" y="312.5" text-anchor="middle">11</text>
<text x="404.1" y="312.5" text-anchor="middle">13</text>
<text x="495.4" y="312.5" text-anchor="middle">15</text>
<text x="586.7" y="312.5" text-anchor="middle">17</text>
<text x="678.0" y="312.5" text-anchor="middle">19</text>
</g>
<g>
<line x1="455.7" y1="33.0" x2="486.1" y2="33.0" stroke="#000000" stroke-width="5.2" stroke-linecap="round"/>
<text x="489" y="38.2">Paris Beachmarks</text>
<line x1="455.7" y1="57.0" x2="486.1" y2="57.0" stroke="#00b050" stroke-width="5.2" stroke-linecap="round"/>
<text x="489" y="62.2">Frost Pook Beachmarks</text>
<line x1="455.7" y1="81.0" x2="486.1" y2="81.0" stroke="#ff0000" stroke-width="5.2" stroke-linecap="round"/>
<text x="489" y="86.2">Experiment Beachmarks</text>
</g>
<text x="380.5" y="333.5" text-anchor="middle">Crack Length, <tspan font-style="italic">c</tspan> (mm)</text>
<text transform="translate(11,181) rotate(-90)" text-anchor="middle">Crack Depth, <tspan font-style="italic">a</tspan> (mm)</text>
</svg>
</body></html>
